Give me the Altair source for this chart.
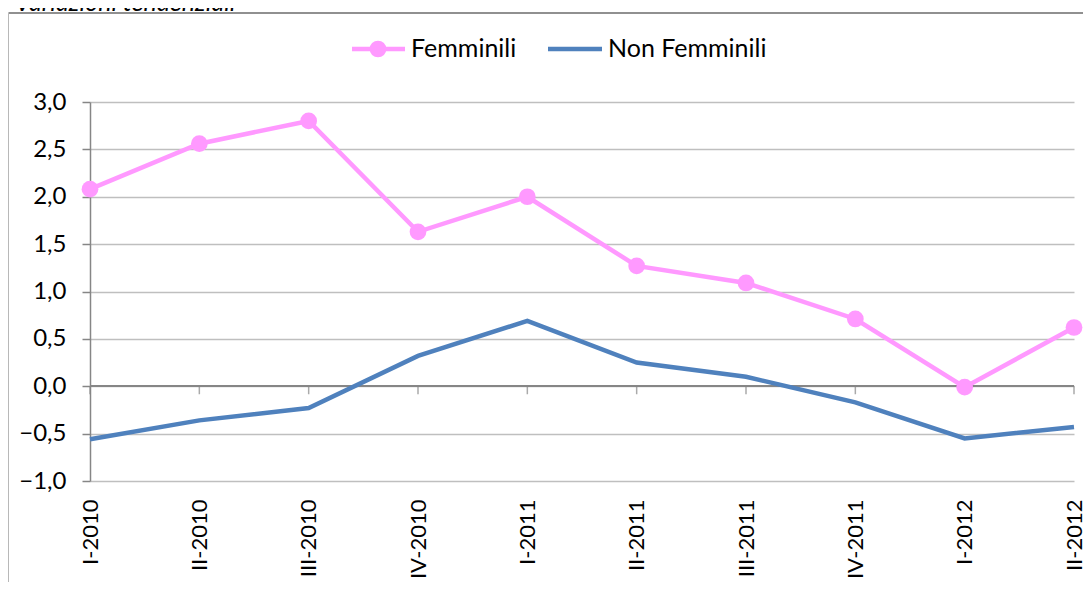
import altair as alt
import pandas as pd

# ---- data ----
quarters = ["I-2010", "II-2010", "III-2010", "IV-2010", "I-2011",
            "II-2011", "III-2011", "IV-2011", "I-2012", "II-2012"]
femminili = [2.08, 2.56, 2.80, 1.63, 2.00, 1.27, 1.09, 0.71, -0.01, 0.62]
non_femminili = [-0.56, -0.36, -0.23, 0.32, 0.69, 0.25, 0.10, -0.17, -0.55, -0.43]
series_names = ["Femminili", "Non Femminili"]
y_ticks = [-1.0, -0.5, 0.0, 0.5, 1.0, 1.5, 2.0, 2.5, 3.0]
title_text = "Variazioni tendenziali"

df = pd.DataFrame({
    "quarter": quarters * 2,
    "value": femminili + non_femminili,
    "serie": [series_names[0]] * len(quarters) + [series_names[1]] * len(quarters),
})
fem_df = df[df["serie"] == series_names[0]]

# ---- style ----
W, H = 984, 379
PINK = "#FF99FF"
BLUE = "#4F81BD"
AXIS = "#868686"
GRID = "#BFBFBF"
FONT = "Lato"
FS_AX = 24
FS_X = 22
FS_LEG = 25

x_enc = alt.X(
    "quarter:N",
    sort=quarters,
    scale=alt.Scale(type="point", domain=quarters, padding=0),
    axis=alt.Axis(
        title=None, labelAngle=-90, labelAlign="right", labelBaseline="middle",
        labelPadding=18, labelFontSize=FS_X, labelFont=FONT, labelColor="black",
        domain=False, ticks=False, grid=False,
    ),
)
y_enc = alt.Y(
    "value:Q",
    scale=alt.Scale(domain=[-1, 3], nice=False, zero=False),
    axis=alt.Axis(
        title=None, values=y_ticks,
        labelExpr="replace(format(datum.value, '.1f'), '.', ',')",
        grid=True, gridColor=GRID, gridWidth=1.5,
        domainColor=AXIS, domainWidth=1.5,
        tickColor=AXIS, tickSize=8, tickWidth=1.5,
        labelFontSize=FS_AX, labelFont=FONT, labelColor="black", labelPadding=16,
    ),
)

lines = alt.Chart(df).mark_line(strokeWidth=4.5).encode(
    x=x_enc, y=y_enc,
    color=alt.Color("serie:N", scale=alt.Scale(domain=series_names, range=[PINK, BLUE]), legend=None),
)
points = alt.Chart(fem_df).mark_circle(size=280, opacity=1, color=PINK).encode(
    x=alt.X("quarter:N", sort=quarters), y="value:Q"
)

zero_line = alt.Chart(pd.DataFrame({"quarter": quarters})).mark_rule(
    color=AXIS, strokeWidth=1.5
).encode(y=alt.datum(0))
zero_ticks = alt.Chart(pd.DataFrame({"quarter": quarters})).mark_tick(
    orient="vertical", size=8, thickness=1.5, color=AXIS, yOffset=4
).encode(x=alt.X("quarter:N", sort=quarters), y=alt.datum(0))

# ---- manual legend ----
LY = -53
leg1 = pd.DataFrame({"label": [series_names[0]]})
leg2 = pd.DataFrame({"label": [series_names[1]]})
leg_f_line = alt.Chart(leg1).mark_rule(color=PINK, strokeWidth=4.5).encode(
    x=alt.value(262), x2=alt.value(315), y=alt.value(LY))
leg_f_dot = alt.Chart(leg1).mark_circle(size=280, opacity=1, color=PINK).encode(
    x=alt.value(288), y=alt.value(LY))
leg_f_text = alt.Chart(leg1).mark_text(
    align="left", baseline="middle", fontSize=FS_LEG, font=FONT, color="black"
).encode(x=alt.value(321), y=alt.value(LY), text="label:N")
leg_n_line = alt.Chart(leg2).mark_rule(color=BLUE, strokeWidth=4.5).encode(
    x=alt.value(458), x2=alt.value(512), y=alt.value(LY))
leg_n_text = alt.Chart(leg2).mark_text(
    align="left", baseline="middle", fontSize=FS_LEG, font=FONT, color="black"
).encode(x=alt.value(518), y=alt.value(LY), text="label:N")

# ---- frame and clipped title ----
tdf = pd.DataFrame({"t": [title_text]})
frame_top = alt.Chart(tdf).mark_rule(color="#909090", strokeWidth=2).encode(
    x=alt.value(-81.5), x2=alt.value(W + 40), y=alt.value(-89))
frame_left = alt.Chart(tdf).mark_rule(color="#B8B8B8", strokeWidth=1).encode(
    x=alt.value(-81.5), y=alt.value(-89), y2=alt.value(H + 200))
title = alt.Chart(tdf).mark_text(
    align="left", baseline="alphabetic", fontSize=FS_LEG, font=FONT,
    fontStyle="italic", color="black"
).encode(x=alt.value(-75), y=alt.value(-91), text="t:N")

chart = alt.layer(
    frame_top, frame_left, title,
    zero_line, lines, zero_ticks, points,
    leg_f_line, leg_f_dot, leg_f_text, leg_n_line, leg_n_text,
).properties(
    width=W, height=H,
    autosize=alt.AutoSizeParams(type="none"),
    padding={"left": 82, "top": 94, "right": 9, "bottom": 101},
    background="white",
).configure_view(stroke=None)

chart.save("out.html", embed_options={"renderer": "svg", "actions": False})
